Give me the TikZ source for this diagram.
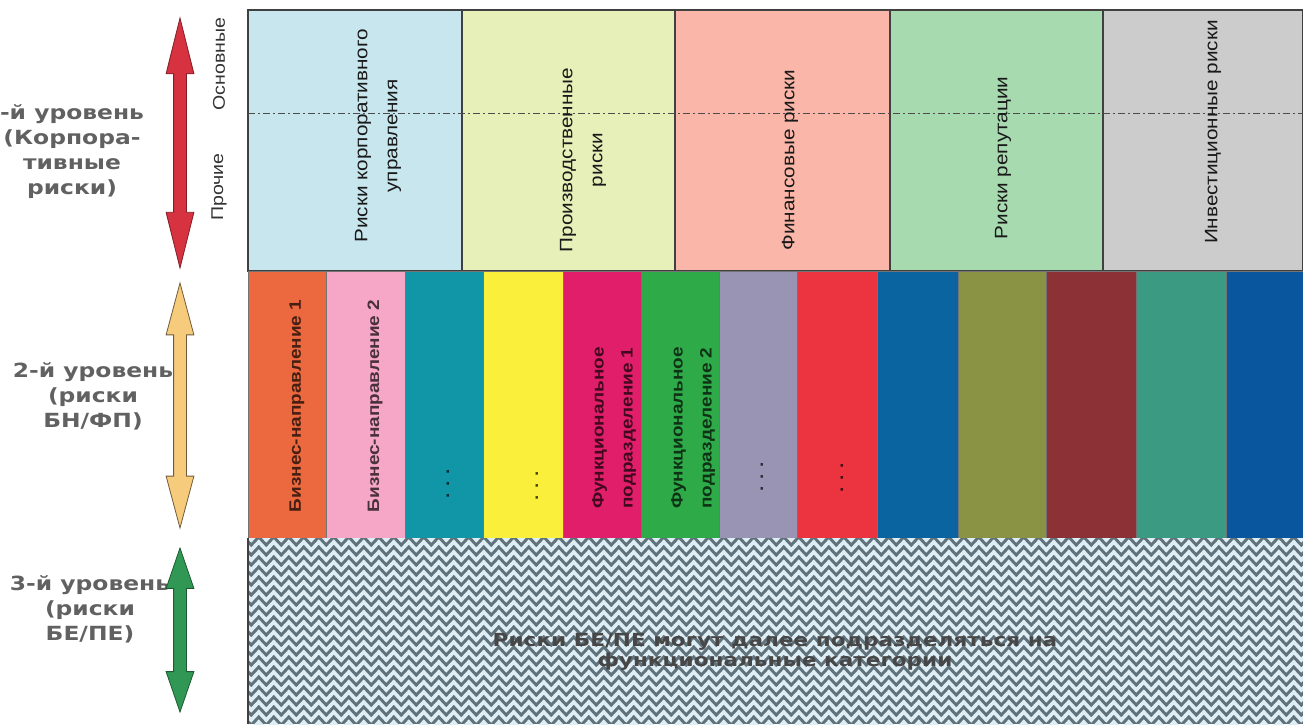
\documentclass[tikz,border=0pt]{standalone}
\usepackage{fontspec}
\setmainfont{Liberation Sans}
\newfontfamily\colfont[FakeStretch=1.15]{Liberation Sans}
\newfontfamily\widefont[FakeStretch=1.2]{DejaVu Sans}
\usetikzlibrary{positioning}
\usetikzlibrary{shapes.arrows}
\usetikzlibrary{decorations.pathmorphing}

% level 1 colours
\definecolor{corpA}{RGB}{200,230,238}
\definecolor{corpB}{RGB}{230,240,184}
\definecolor{corpC}{RGB}{250,182,168}
\definecolor{corpD}{RGB}{168,218,176}
\definecolor{corpE}{RGB}{204,204,204}
% level 2 colours
\definecolor{bnA}{RGB}{236,104,62}
\definecolor{bnB}{RGB}{246,166,198}
\definecolor{bnC}{RGB}{16,150,166}
\definecolor{bnD}{RGB}{250,240,60}
\definecolor{bnE}{RGB}{224,30,106}
\definecolor{bnF}{RGB}{46,170,72}
\definecolor{bnG}{RGB}{154,148,180}
\definecolor{bnH}{RGB}{236,52,64}
\definecolor{bnI}{RGB}{10,100,160}
\definecolor{bnJ}{RGB}{138,146,68}
\definecolor{bnK}{RGB}{140,50,54}
\definecolor{bnL}{RGB}{58,154,130}
\definecolor{bnM}{RGB}{10,86,158}
% level 3 and arrows
\definecolor{hatchdark}{RGB}{96,114,124}
\definecolor{hatchlight}{RGB}{222,238,244}
\definecolor{arrowred}{RGB}{214,50,64}
\definecolor{arrowyel}{RGB}{247,203,124}
\definecolor{arrowgrn}{RGB}{48,152,84}

\tikzset{
  lvl/.style={align=center, text=black!62, font=\widefont\bfseries\fontsize{19.5}{25}\selectfont},
  lvlarrow/.style={double arrow, rotate=90, inner xsep=0pt, inner ysep=6pt,
    double arrow head extend=7.5pt, line width=0.8pt},
  collabel/.style={rotate=90, align=center, text=black!90, font=\colfont\fontsize{18}{30}\selectfont},
  barlabel/.style={rotate=90, align=center, text=black, text opacity=0.7,
    font=\colfont\bfseries\fontsize{16.5}{29}\selectfont},
  sidelabel/.style={rotate=90, text=black!80, font=\colfont\fontsize{17}{20}\selectfont},
}

\begin{document}
\begin{tikzpicture}[x=1pt, y=-1pt]
    \useasboundingbox (0,0) rectangle (1303,724);

        % Level 1 columns
        \foreach \xa/\xb/\c in {248/462/corpA, 462/675/corpB, 675/890/corpC, 890/1103/corpD, 1103/1303/corpE}
          \filldraw[fill=\c, draw=black!75, line width=1.2pt] (\xa,10) rectangle (\xb,271);
        \draw[black!70, line width=1pt, dash pattern=on 7pt off 3pt on 2pt off 3pt] (248,113) -- (1303,113);

        % Level 2 columns
        \foreach \xa/\xb/\c in {248/326/bnA, 326/405/bnB, 405/483/bnC, 483/563/bnD, 563/641/bnE,
            641/719/bnF, 719/797/bnG, 797/877/bnH, 877/958/bnI, 958/1046/bnJ, 1046/1136/bnK,
            1136/1226/bnL, 1226/1303/bnM}
          \filldraw[fill=\c, draw=black!55, line width=0.8pt] (\xa,271) rectangle (\xb,538);

        % Level 3 hatching
        \begin{scope}
          \clip (248,538) rectangle (1303,724);
          \fill[hatchdark] (248,538) rectangle (1303,724);
          \foreach \r in {0,...,19}
            \draw[hatchlight, line width=3.6pt, decorate,
                  decoration={zigzag, segment length=15pt, amplitude=4pt}]
              (240,{536+10*\r}) -- ++(1080,0);
        \end{scope}
        \draw[black!75, line width=1.2pt] (248,538) -- (248,724);

        % Define nodes
        \node[sidelabel] (main) at (219,64) {Основные};
        \node[sidelabel] (other) at (219,187) {Прочие};

        \node[collabel] (c1) at (378,136) {Риски корпоративного\\управления};
        \node[collabel] (c2) at (583,160) {Производственные\\риски};
        \node[collabel] (c3) at (790,160) {Финансовые риски};
        \node[collabel] (c4) at (1003,158) {Риски репутации};
        \node[collabel] (c5) at (1213,132) {Инвестиционные риски};

        \node[barlabel] (b1) at (297,406) {Бизнес-направление 1};
        \node[barlabel] (b2) at (375,406) {Бизнес-направление 2};
        \node[barlabel] (b3) at (448,484) {. . .};
        \node[barlabel] (b4) at (537,486) {. . .};
        \node[barlabel] (b5) at (614,428) {Функциональное\\подразделение 1};
        \node[barlabel] (b6) at (693,428) {Функциональное\\подразделение 2};
        \node[barlabel] (b7) at (762,477) {. . .};
        \node[barlabel] (b8) at (842,478) {. . .};

        \node[text=black!72, align=center, font=\widefont\bfseries\fontsize{18}{20}\selectfont]
          (be) at (775,652) {Риски БЕ/ПЕ могут далее подразделяться на\\функциональные категории};

        % Levels
        \node[lvl] (lvl1) at (72,152) {-й уровень\\(Корпора-\\тивные\\риски)};
        \node[lvl] (lvl2) at (93,396) {2-й уровень\\(риски\\БН/ФП)};
        \node[lvl] (lvl3) at (90,609) {3-й уровень\\(риски\\БЕ/ПЕ)};

        \node[lvlarrow, fill=arrowred, draw=arrowred!60!black, minimum height=250pt,
              double arrow tip angle=28] (arr1) at (180,143) {};
        \node[lvlarrow, fill=arrowyel, draw=arrowyel!45!black, minimum height=245pt,
              double arrow tip angle=30] (arr2) at (180,405.5) {};
        \node[lvlarrow, fill=arrowgrn, draw=arrowgrn!60!black, minimum height=164pt,
              double arrow tip angle=38] (arr3) at (180,630) {};
      \end{tikzpicture}
\end{document}
